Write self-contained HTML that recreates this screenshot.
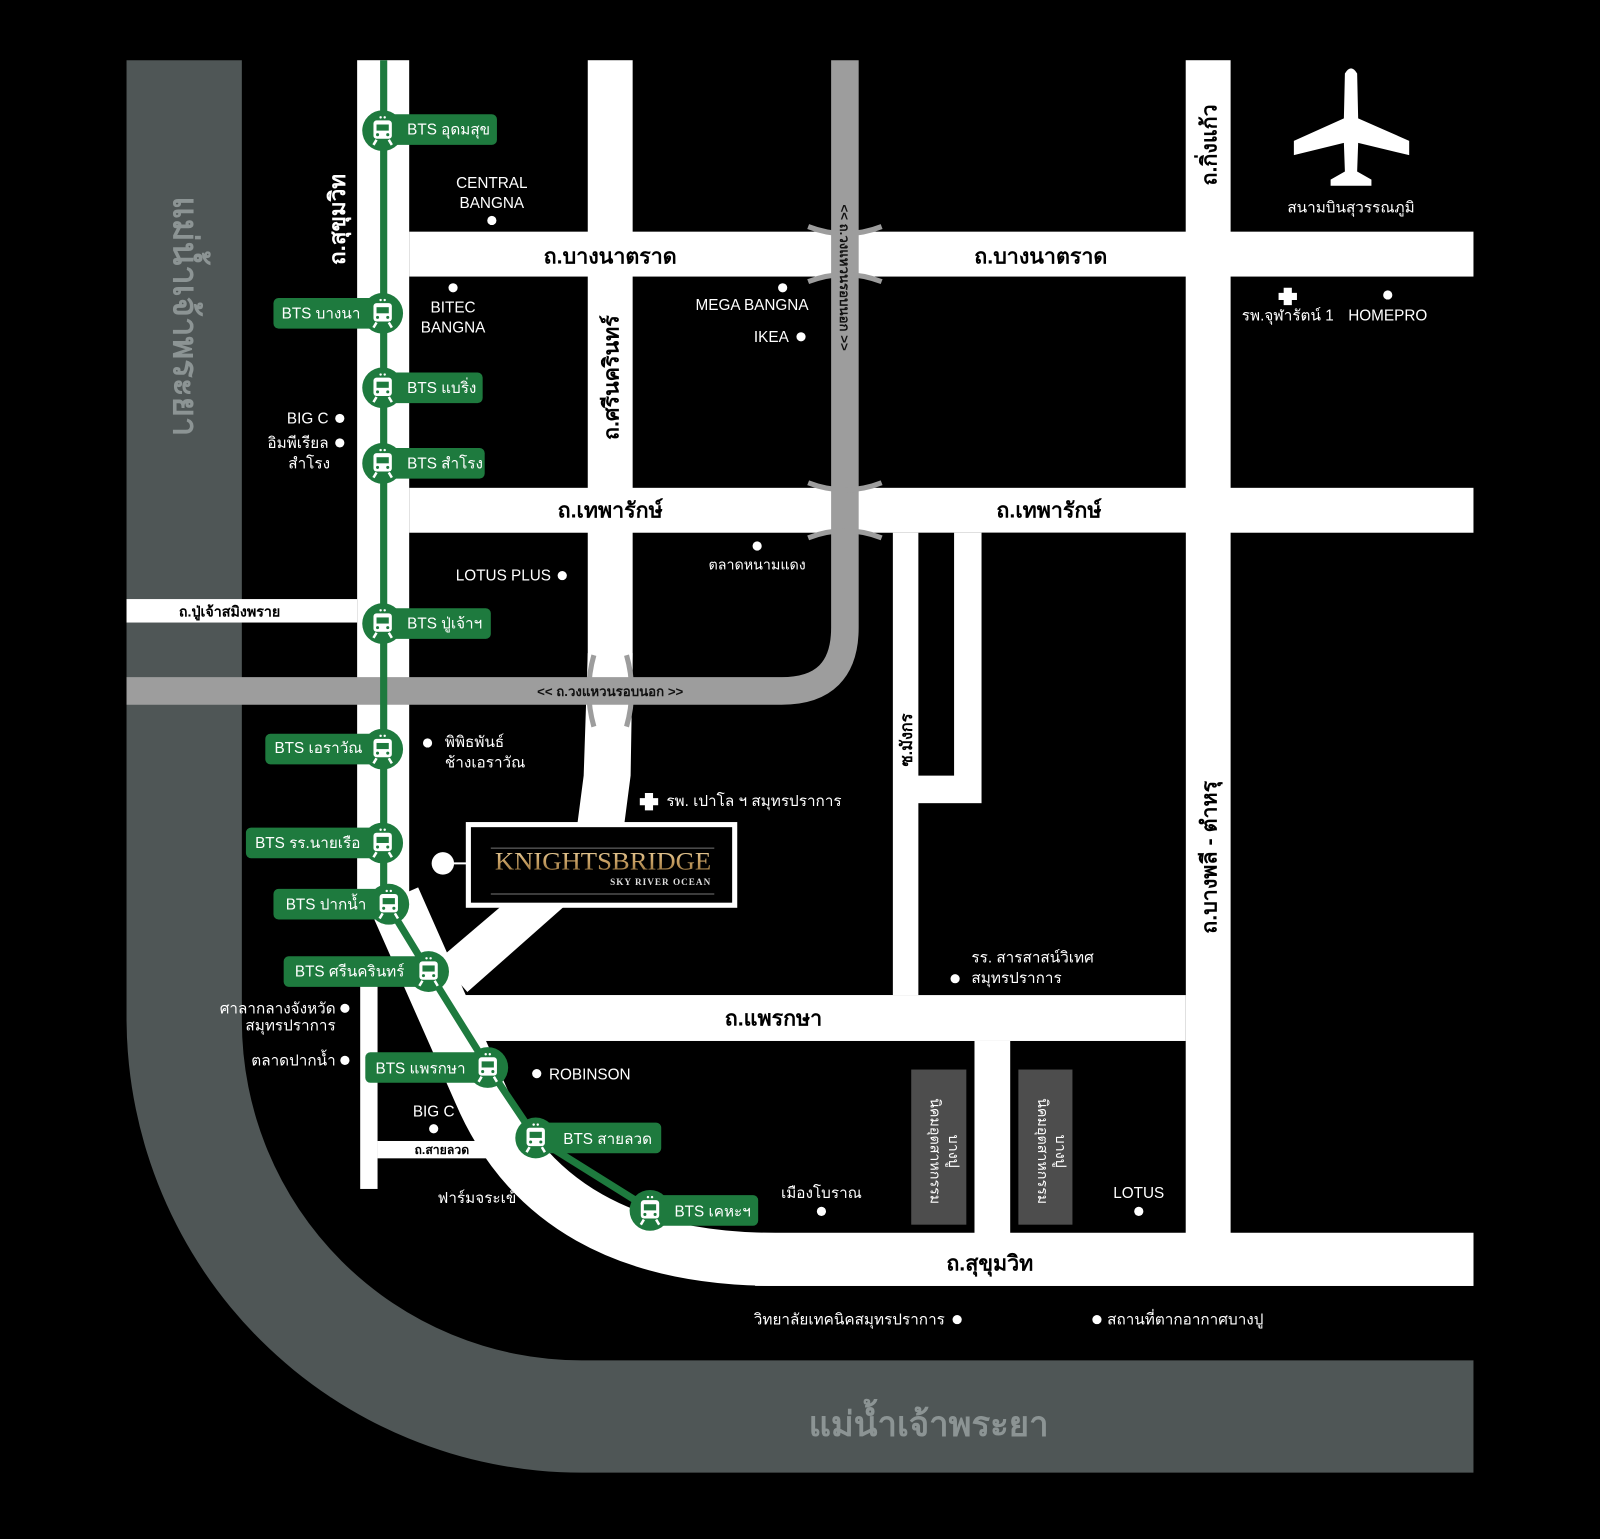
<!DOCTYPE html>
<html><head><meta charset="utf-8">
<style>
html,body{margin:0;padding:0;background:#000;}
svg{display:block;}
text{font-family:"Liberation Sans","Noto Sans CJK SC",sans-serif;}
.w{fill:#fff;font-size:15px;}
.r{fill:#000;font-size:21px;font-weight:bold;}
.s{fill:#fff;font-size:15px;}
</style></head><body>
<svg width="1600" height="1539" viewBox="0 0 1568 1508" preserveAspectRatio="none" xmlns="http://www.w3.org/2000/svg">
<defs>
<linearGradient id="gold" x1="0" y1="0" x2="0" y2="1">
<stop offset="0" stop-color="#f3deb0"/><stop offset="0.5" stop-color="#c9a164"/><stop offset="1" stop-color="#8c6a37"/>
</linearGradient>
<symbol id="tr" viewBox="-12 -14 24 28" overflow="visible">
<rect x="-9" y="-10" width="18" height="18" rx="3" fill="#fff"/>
<rect x="-6" y="-6" width="12" height="6" fill="#1e7a3e"/>
<circle cx="-5" cy="4" r="1.5" fill="#1e7a3e"/><circle cx="5" cy="4" r="1.5" fill="#1e7a3e"/>
<circle cx="-2" cy="-13" r="1.2" fill="#fff"/><circle cx="2" cy="-13" r="1.2" fill="#fff"/>
<path d="M-6 9 L-9 14 M6 9 L9 14" stroke="#fff" stroke-width="2.5"/>
</symbol>
</defs>
<rect width="1568" height="1508" fill="#000"/>
<!-- river -->
<path d="M124 59 H237 V1000 A333 333 0 0 0 570 1333 H1444 V1443 H570 A446 446 0 0 1 124 1000 Z" fill="#4f5656"/>
<text transform="translate(170,310) rotate(90)" text-anchor="middle" font-size="34" font-weight="bold" fill="#8c9494">แม่น้ำเจ้าพระยา</text>
<text x="910" y="1407" text-anchor="middle" font-size="34" font-weight="bold" fill="#8c9494">แม่น้ำเจ้าพระยา</text>

<!-- white roads -->
<g fill="#fff">
<rect x="350" y="59" width="51" height="835"/>
<rect x="353" y="940" width="17" height="225"/>
<rect x="370" y="1118" width="120" height="17"/>
<rect x="401" y="227" width="1043" height="44"/>
<rect x="401" y="478" width="1043" height="44"/>
<rect x="124" y="587" width="226" height="23"/>
<rect x="1162" y="59" width="44" height="1175"/>
<rect x="455" y="975" width="707" height="45"/>
<rect x="875" y="522" width="87" height="453"/>
<rect x="955" y="1020" width="35" height="190"/>
<rect x="576" y="59" width="44" height="600"/>
<path d="M576 640 L620 640 L618 760 L612 806 L566 806 L572 760 Z"/>
<path d="M490 889 L552 889 L458 972 L430 940 Z"/>
</g>
<rect x="900" y="522" width="35" height="238" fill="#000"/>
<rect x="962" y="522" width="200" height="265" fill="#000"/>
<rect x="900" y="787" width="262" height="188" fill="#000"/>
<path d="M386 880 L470 1070 Q540 1234 760 1234 L1444 1234" stroke="#fff" stroke-width="52" fill="none"/>
<rect x="740" y="1208" width="704" height="52" fill="#fff"/>

<!-- ring road -->
<path d="M828 59 L828 615 Q828 677 766 677 L124 677" stroke="#9d9d9d" stroke-width="27" fill="none"/>
<g stroke="#9d9d9d" stroke-width="5" fill="none">
<path d="M792 222 Q828 236 864 222"/><path d="M792 276 Q828 262 864 276"/>
<path d="M792 473 Q828 487 864 473"/><path d="M792 527 Q828 513 864 527"/>
<path d="M582 642 Q572 677 582 712"/><path d="M614 642 Q624 677 614 712"/>
</g>
<text x="598" y="682" text-anchor="middle" font-size="13" font-weight="bold" fill="#111">&lt;&lt; ถ.วงแหวนรอบนอก &gt;&gt;</text>
<text transform="translate(823,272) rotate(90)" text-anchor="middle" font-size="13" font-weight="bold" fill="#111">&lt;&lt; ถ.วงแหวนรอบนอก &gt;&gt;</text>

<!-- road labels -->
<text class="r" x="598" y="258" text-anchor="middle">ถ.บางนาตราด</text>
<text class="r" x="1020" y="258" text-anchor="middle">ถ.บางนาตราด</text>
<text class="r" x="598" y="507" text-anchor="middle">ถ.เทพารักษ์</text>
<text class="r" x="1028" y="507" text-anchor="middle">ถ.เทพารักษ์</text>
<text class="r" x="758" y="1005" text-anchor="middle">ถ.แพรกษา</text>
<text class="r" x="970" y="1245" text-anchor="middle">ถ.สุขุมวิท</text>
<text class="r" transform="translate(606,370) rotate(-90)" text-anchor="middle">ถ.ศรีนครินทร์</text>
<text class="r" transform="translate(1192,142) rotate(-90)" text-anchor="middle">ถ.กิ่งแก้ว</text>
<text class="r" transform="translate(1192,840) rotate(-90)" text-anchor="middle">ถ.บางพลี - ตำหรุ</text>
<text transform="translate(894,725) rotate(-90)" text-anchor="middle" font-size="16" font-weight="bold" fill="#000">ซ.มังกร</text>
<text transform="translate(338,215) rotate(-90)" text-anchor="middle" font-size="22" font-weight="bold" fill="#fff">ถ.สุขุมวิท</text>
<text x="225" y="604" text-anchor="middle" font-size="14" font-weight="bold" fill="#000">ถ.ปู่เจ้าสมิงพราย</text>
<text x="433" y="1131" text-anchor="middle" font-size="12" font-weight="bold" fill="#000">ถ.สายลวด</text>

<!-- gray industrial boxes -->
<rect x="893" y="1048" width="54" height="152" fill="#4d4d4d"/>
<rect x="998" y="1048" width="53" height="152" fill="#4d4d4d"/>
<text transform="translate(912,1128) rotate(90)" text-anchor="middle" font-size="14" fill="#fff">นิคมอุตสาหกรรม</text>
<text transform="translate(930,1128) rotate(90)" text-anchor="middle" font-size="14" fill="#fff">บางปู</text>
<text transform="translate(1017,1128) rotate(90)" text-anchor="middle" font-size="14" fill="#fff">นิคมอุตสาหกรรม</text>
<text transform="translate(1035,1128) rotate(90)" text-anchor="middle" font-size="14" fill="#fff">บางปู</text>

<!-- green line -->
<path d="M376 59 L376 880 L420 952 L478 1045 L525 1115 L637 1185 L720 1196" stroke="#1e7a3e" stroke-width="7" fill="none"/>

<!-- stations -->
<g fill="#1e7a3e">
<rect x="375" y="112" width="112" height="30" rx="5"/>
<rect x="268" y="292" width="107" height="30" rx="5"/>
<rect x="375" y="365" width="98" height="30" rx="5"/>
<rect x="375" y="439" width="100" height="30" rx="5"/>
<rect x="375" y="596" width="106" height="30" rx="5"/>
<rect x="260" y="719" width="115" height="30" rx="5"/>
<rect x="241" y="811" width="134" height="30" rx="5"/>
<rect x="268" y="871" width="113" height="30" rx="5"/>
<rect x="278" y="937" width="142" height="30" rx="5"/>
<rect x="358" y="1031" width="120" height="30" rx="5"/>
<rect x="525" y="1100" width="123" height="30" rx="5"/>
<rect x="637" y="1171" width="106" height="30" rx="5"/>
<circle cx="375" cy="128" r="20"/><circle cx="375" cy="307" r="20"/><circle cx="375" cy="380" r="20"/>
<circle cx="375" cy="454" r="20"/><circle cx="375" cy="611" r="20"/><circle cx="375" cy="734" r="20"/>
<circle cx="375" cy="826" r="20"/><circle cx="381" cy="886" r="20"/><circle cx="420" cy="952" r="20"/>
<circle cx="478" cy="1046" r="20"/><circle cx="525" cy="1115" r="20"/><circle cx="637" cy="1186" r="20"/>
</g>
<g>
<use href="#tr" x="363" y="114" width="24" height="28"/>
<use href="#tr" x="363" y="293" width="24" height="28"/>
<use href="#tr" x="363" y="366" width="24" height="28"/>
<use href="#tr" x="363" y="440" width="24" height="28"/>
<use href="#tr" x="363" y="597" width="24" height="28"/>
<use href="#tr" x="363" y="720" width="24" height="28"/>
<use href="#tr" x="363" y="812" width="24" height="28"/>
<use href="#tr" x="369" y="872" width="24" height="28"/>
<use href="#tr" x="408" y="938" width="24" height="28"/>
<use href="#tr" x="466" y="1032" width="24" height="28"/>
<use href="#tr" x="513" y="1101" width="24" height="28"/>
<use href="#tr" x="625" y="1172" width="24" height="28"/>
</g>
<g class="s">
<text x="399" y="132">BTS อุดมสุข</text>
<text x="276" y="312">BTS บางนา</text>
<text x="399" y="385">BTS แบริ่ง</text>
<text x="399" y="459">BTS สำโรง</text>
<text x="399" y="616">BTS ปู่เจ้าฯ</text>
<text x="269" y="738">BTS เอราวัณ</text>
<text x="250" y="831">BTS รร.นายเรือ</text>
<text x="280" y="891">BTS ปากน้ำ</text>
<text x="289" y="957">BTS ศรีนครินทร์</text>
<text x="368" y="1052">BTS แพรกษา</text>
<text x="552" y="1121">BTS สายลวด</text>
<text x="661" y="1192">BTS เคหะฯ</text>
</g>

<!-- Knightsbridge -->
<rect x="459" y="808" width="261" height="79" fill="#000" stroke="#fff" stroke-width="5"/>
<line x1="481" y1="831" x2="700" y2="831" stroke="#777" stroke-width="1"/>
<line x1="481" y1="876" x2="700" y2="876" stroke="#777" stroke-width="1"/>
<text x="591" y="852" text-anchor="middle" style="font-family:'Liberation Serif',serif;font-size:25px" fill="url(#gold)" textLength="212" lengthAdjust="spacingAndGlyphs">KNIGHTSBRIDGE</text>
<text x="697" y="867" text-anchor="end" style="font-family:'Liberation Serif',serif;font-size:9px;font-weight:bold" fill="#ddd" letter-spacing="1">SKY  RIVER  OCEAN</text>
<circle cx="434" cy="846" r="11" fill="#fff"/>
<line x1="434" y1="846" x2="457" y2="846" stroke="#fff" stroke-width="2"/>

<!-- airplane -->
<g fill="#fff">
<path d="M1318 72 Q1324 62 1330 72 L1331 116 L1381 138 L1381 152 L1331 140 L1330 168 L1344 176 L1344 182 L1304 182 L1304 176 L1318 168 L1317 140 L1268 152 L1268 138 L1317 116 Z"/>
</g>
<text class="w" x="1324" y="208" text-anchor="middle" font-size="14">สนามบินสุวรรณภูมิ</text>

<!-- POI -->
<g fill="#fff">
<circle cx="482" cy="216" r="4.5"/><circle cx="444" cy="282" r="4.5"/><circle cx="767" cy="282" r="4.5"/>
<circle cx="785" cy="330" r="4.5"/><circle cx="1360" cy="289" r="4.5"/><circle cx="333" cy="410" r="4.5"/>
<circle cx="333" cy="434" r="4.5"/><circle cx="742" cy="535" r="4.5"/><circle cx="551" cy="564" r="4.5"/>
<circle cx="419" cy="728" r="4.5"/><circle cx="936" cy="959" r="4.5"/><circle cx="338" cy="988" r="4.5"/>
<circle cx="338" cy="1039" r="4.5"/><circle cx="526" cy="1052" r="4.5"/><circle cx="425" cy="1106" r="4.5"/>
<circle cx="518" cy="1174" r="4.5"/><circle cx="805" cy="1187" r="4.5"/><circle cx="1116" cy="1187" r="4.5"/>
<circle cx="938" cy="1293" r="4.5"/><circle cx="1075" cy="1293" r="4.5"/>
<path d="M1258 282 h8 v5 h5 v7 h-5 v5 h-8 v-5 h-5 v-7 h5 z"/>
<path d="M632 777 h8 v5 h5 v7 h-5 v5 h-8 v-5 h-5 v-7 h5 z"/>
</g>
<g class="w">
<text x="482" y="184" text-anchor="middle">CENTRAL</text>
<text x="482" y="204" text-anchor="middle">BANGNA</text>
<text x="444" y="306" text-anchor="middle">BITEC</text>
<text x="444" y="326" text-anchor="middle">BANGNA</text>
<text x="737" y="304" text-anchor="middle">MEGA BANGNA</text>
<text x="773" y="335" text-anchor="end">IKEA</text>
<text x="1262" y="314" text-anchor="middle">รพ.จุฬารัตน์ 1</text>
<text x="1360" y="314" text-anchor="middle">HOMEPRO</text>
<text x="322" y="415" text-anchor="end">BIG C</text>
<text x="322" y="439" text-anchor="end">อิมพีเรียล</text>
<text x="303" y="459" text-anchor="middle">สำโรง</text>
<text x="742" y="558" text-anchor="middle" font-size="14">ตลาดหนามแดง</text>
<text x="540" y="569" text-anchor="end">LOTUS PLUS</text>
<text x="436" y="732">พิพิธพันธ์</text>
<text x="436" y="752">ช้างเอราวัณ</text>
<text x="653" y="790">รพ. เปาโล ฯ สมุทรปราการ</text>
<text x="952" y="943">รร. สารสาสน์วิเทศ</text>
<text x="952" y="963">สมุทรปราการ</text>
<text x="329" y="993" text-anchor="end">ศาลากลางจังหวัด</text>
<text x="329" y="1010" text-anchor="end">สมุทรปราการ</text>
<text x="329" y="1044" text-anchor="end">ตลาดปากน้ำ</text>
<text x="538" y="1058">ROBINSON</text>
<text x="425" y="1094" text-anchor="middle">BIG C</text>
<text x="506" y="1179" text-anchor="end">ฟาร์มจระเข้</text>
<text x="805" y="1174" text-anchor="middle">เมืองโบราณ</text>
<text x="1116" y="1174" text-anchor="middle">LOTUS</text>
<text x="926" y="1298" text-anchor="end">วิทยาลัยเทคนิคสมุทรปราการ</text>
<text x="1085" y="1298">สถานที่ตากอากาศบางปู</text>
</g>
</svg>
</body></html>
